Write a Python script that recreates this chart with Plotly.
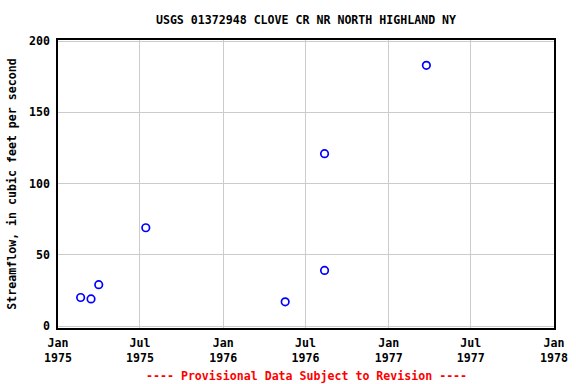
import plotly.graph_objects as go

dates = ["1975-02-20", "1975-03-15", "1975-04-01", "1975-07-14",
         "1976-05-17", "1976-08-12", "1976-08-12", "1977-03-25"]
flows = [20, 19, 29, 69, 17, 121, 39, 183]

tick_vals = ["1975-01-01", "1975-07-01", "1976-01-01", "1976-07-01",
             "1977-01-01", "1977-07-01", "1978-01-01"]
tick_text = ["Jan<br>1975", "Jul<br>1975", "Jan<br>1976", "Jul<br>1976",
             "Jan<br>1977", "Jul<br>1977", "Jan<br>1978"]
y_ticks = [0, 50, 100, 150, 200]

font_family = "DejaVu Sans Mono, monospace"
fs = 11.6

fig = go.Figure()
fig.add_trace(go.Scatter(
    x=dates, y=flows, mode="markers",
    marker=dict(symbol="circle-open", color="#0000ff", size=7.5,
                line=dict(width=1.7, color="#0000ff")),
    showlegend=False,
))

fig.update_layout(
    width=576, height=384,
    margin=dict(l=58, r=22, t=40, b=56),
    plot_bgcolor="white", paper_bgcolor="white",
    font=dict(family=font_family, size=fs, color="black", weight="bold"),
    title=dict(text="USGS 01372948 CLOVE CR NR NORTH HIGHLAND NY",
               xref="paper", x=0.5, xanchor="center", y=0.948, yanchor="middle",
               font=dict(family=font_family, size=fs, weight="bold")),
    xaxis=dict(
        type="date", range=["1975-01-01", "1978-01-01"],
        tickvals=tick_vals, ticktext=tick_text,
        showgrid=True, gridcolor="#cccccc", gridwidth=1,
        showline=True, linecolor="black", linewidth=1.5, mirror=True,
        ticks="outside", ticklen=3, tickcolor="rgba(0,0,0,0)",
        tickfont=dict(family=font_family, size=fs, weight="bold"),
        zeroline=False, automargin=False,
    ),
    yaxis=dict(
        range=[-1.4, 200.8], tickvals=y_ticks,
        showgrid=True, gridcolor="#cccccc", gridwidth=1,
        showline=True, linecolor="black", linewidth=1.5, mirror=True,
        ticks="outside", ticklen=4, tickcolor="rgba(0,0,0,0)",
        tickfont=dict(family=font_family, size=fs, weight="bold"),
        zeroline=False, automargin=False,
        title=dict(text="Streamflow, in cubic feet per second",
                   font=dict(family=font_family, size=fs, weight="bold"),
                   standoff=10),
    ),
    annotations=[dict(
        text="---- Provisional Data Subject to Revision ----",
        xref="paper", yref="paper", x=0.5, y=-0.165,
        xanchor="center", yanchor="middle", showarrow=False,
        font=dict(family=font_family, size=fs, color="red", weight="bold"),
    )],
)

fig.write_html("out.html", config={"displayModeBar": False},
               post_script="document.body.style.margin='0';document.body.style.overflow='hidden';")
